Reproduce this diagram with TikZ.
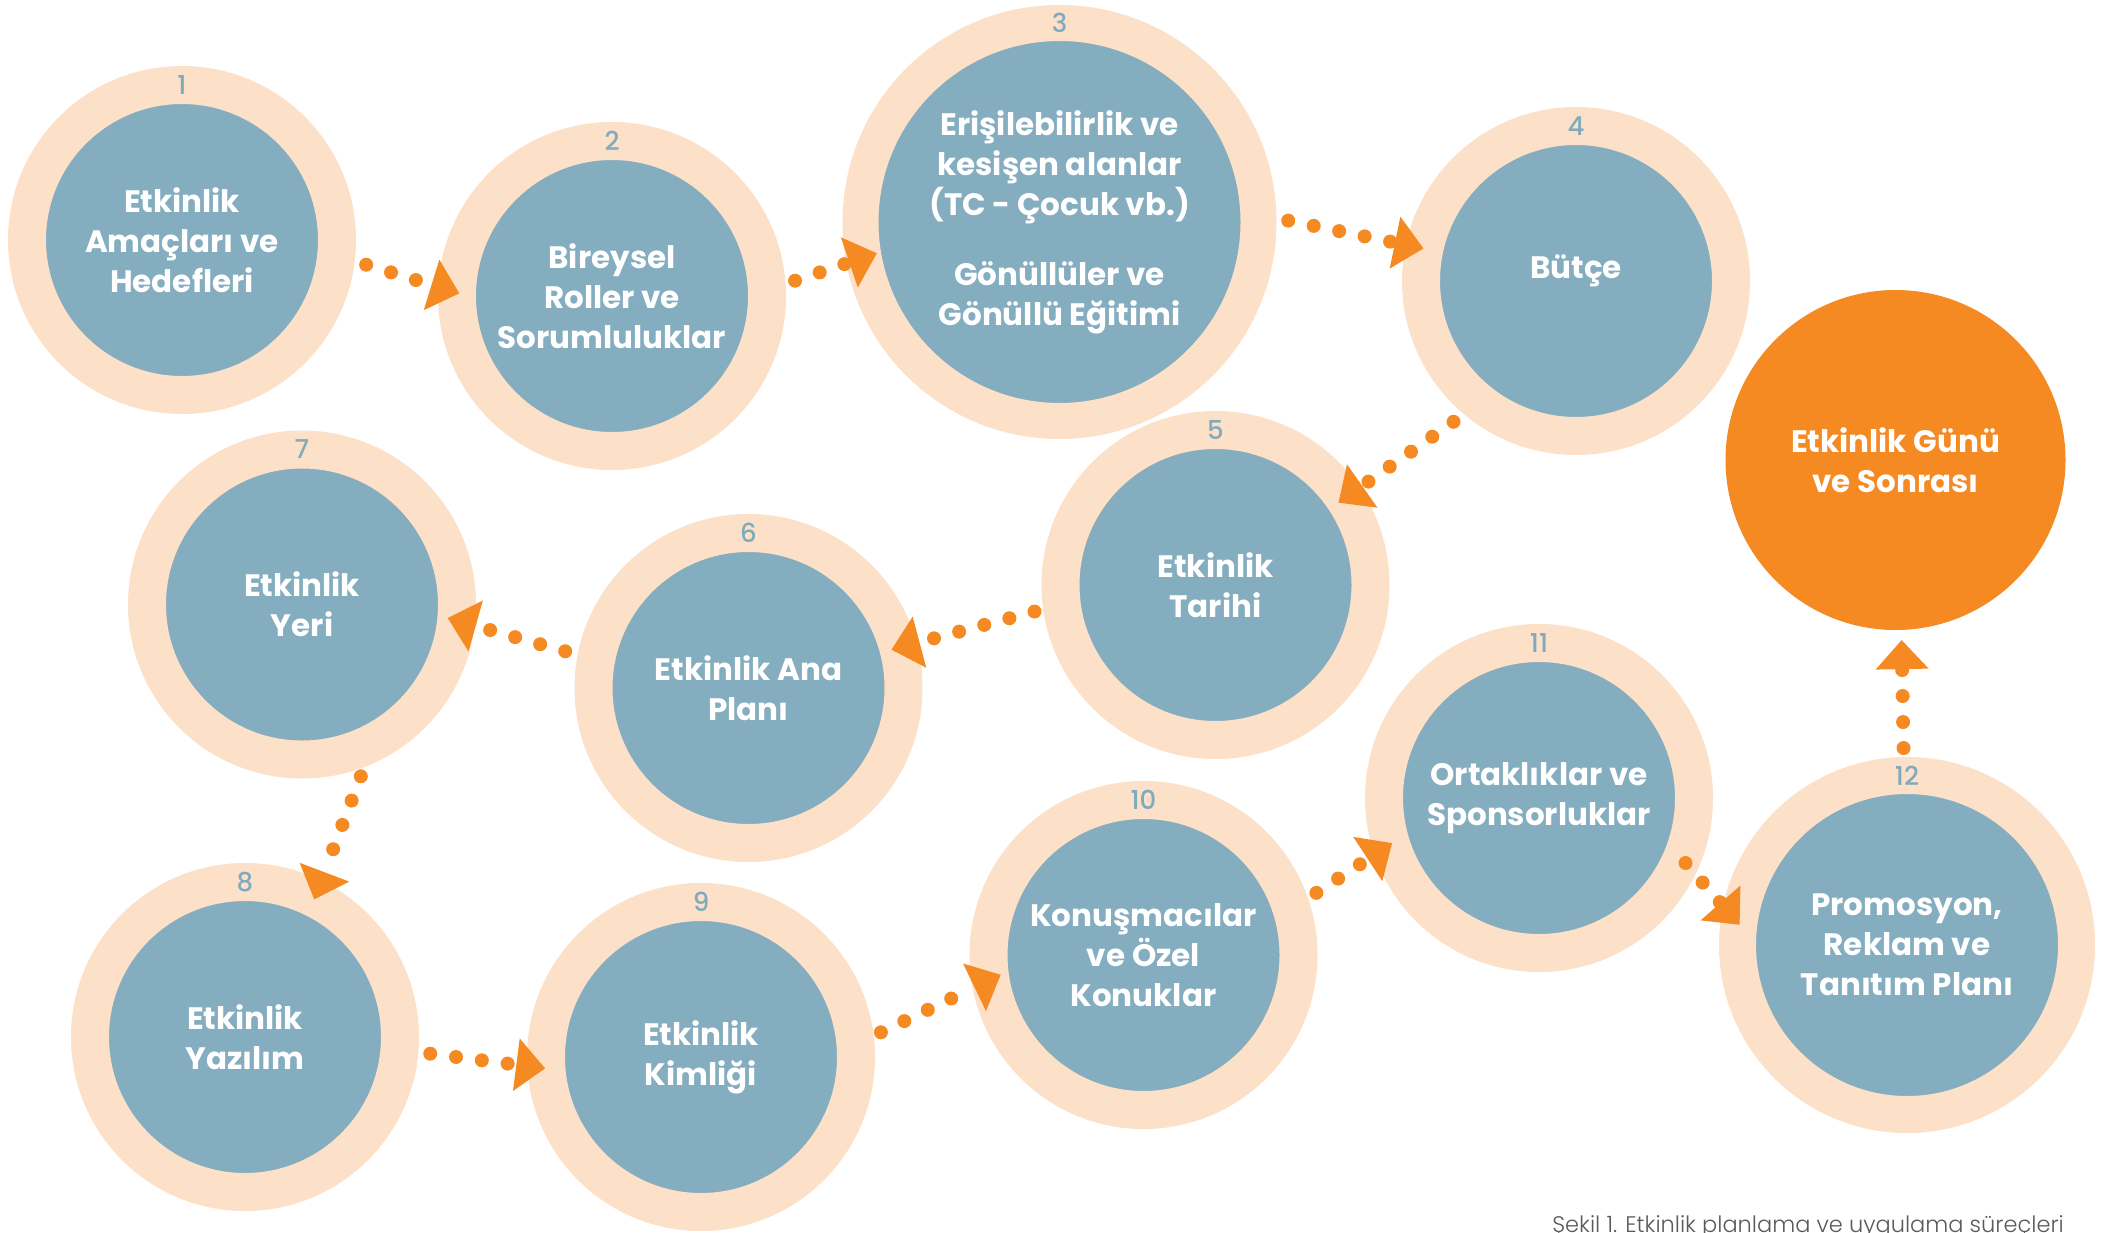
\documentclass[tikz,border=0pt]{standalone}
\usepackage{fontspec}
\setmainfont{Poppins}
\newfontfamily\numberfont{Poppins}[UprightFont=* Medium]
\newfontfamily\captionfont{Poppins}[UprightFont=* Light]
\usetikzlibrary{
  arrows.meta,
  positioning}
\definecolor{ringcolor}{RGB}{252,224,200}
\definecolor{stepcolor}{RGB}{132,173,191}
\definecolor{goalcolor}{RGB}{245,138,35}
\definecolor{numbercolor}{RGB}{128,170,189}
\definecolor{captioncolor}{RGB}{90,90,90}
\tikzset{
  %% stepnode : one planning step (blue disc inside a peach ring)
  stepnode/.style={
    circle,
    fill=stepcolor,
    draw=ringcolor,
    line width=38pt,
    minimum size=310pt,
    inner sep=0pt,
    text=white,
    font=\fontsize{31}{40}\selectfont\bfseries,
    align=center
  },
  %% stepnumber : number printed in the ring
  stepnumber/.style={
    text=numbercolor,
    font=\numberfont\fontsize{26}{26}\selectfont,
    inner sep=0pt
  },
  %% goal : the final (orange) disc
  goal/.style={
    circle,
    fill=goalcolor,
    minimum size=340pt,
    inner sep=0pt,
    text=white,
    font=\fontsize{31}{40}\selectfont\bfseries,
    align=center
  },
  %% flow : dotted connector with a flat triangle head
  flow/.style={
    goalcolor,
    line width=14pt,
    line cap=round,
    dash pattern=on 0pt off 26pt,
    -{Triangle[length=29pt,width=53pt,line width=0pt]}
  },
  %% caption : figure caption, bottom right
  caption/.style={
    text=captioncolor,
    font=\captionfont\fontsize{22.5}{22.5}\selectfont,
    inner sep=0pt
  }
}

\begin{document}
\begin{tikzpicture}
  [x=1pt,
  y=-1pt]

  %% Background, fixes the size of the page
  \fill [white] (0,0) rectangle (2111,1232);
  \useasboundingbox (0,0) rectangle (2111,1232);

  %% Steps
  \node (s1) [stepnode] at (182,240) {%
    Etkinlik\\
    Amaçları ve\\
    Hedefleri
  };
  \node (s2) [stepnode] at (612,296) {%
    Bireysel\\
    Roller ve\\
    Sorumluluklar
  };
  \node (s3) [stepnode, line width=36pt, minimum size=398pt] at (1059.5,222) {%
    Erişilebilirlik ve\\
    kesişen alanlar\\
    (TC - Çocuk vb.)\\[30pt]
    Gönüllüler ve\\
    Gönüllü Eğitimi
  };
  \node (s4) [stepnode] at (1576,281) {%
    Bütçe\\[-12pt]
    \mbox{}
  };
  \node (s5) [stepnode] at (1215.5,585) {%
    Etkinlik\\
    Tarihi
  };
  \node (s6) [stepnode] at (748.5,688) {%
    Etkinlik Ana\\
    Planı
  };
  \node (s7) [stepnode] at (302,604.5) {%
    Etkinlik\\
    Yeri
  };
  \node (s8) [stepnode] at (245,1037) {%
    Etkinlik\\
    Yazılım
  };
  \node (s9) [stepnode] at (701,1057) {%
    Etkinlik\\
    Kimliği
  };
  \node (s10) [stepnode] at (1143.5,955) {%
    Konuşmacılar\\
    ve Özel\\
    Konuklar
  };
  \node (s11) [stepnode] at (1539,798) {%
    Ortaklıklar ve\\
    Sponsorluklar
  };
  \node (s12) [stepnode, line width=37pt, minimum size=339pt] at (1907,945) {%
    Promosyon,\\
    Reklam ve\\
    Tanıtım Planı
  };
  \node (goal) [goal] at (1895.5,460) {%
    Etkinlik Günü\\
    ve Sonrası
  };

  %% Numbers in the rings
  \node (n1) [stepnumber] at ([yshift=-19pt]s1.north) {1};
  \node (n2) [stepnumber] at ([yshift=-19pt]s2.north) {2};
  \node (n3) [stepnumber] at ([yshift=-18pt]s3.north) {3};
  \node (n4) [stepnumber] at ([yshift=-19pt]s4.north) {4};
  \node (n5) [stepnumber] at ([yshift=-19pt]s5.north) {5};
  \node (n6) [stepnumber] at ([yshift=-19pt]s6.north) {6};
  \node (n7) [stepnumber] at ([yshift=-19pt]s7.north) {7};
  \node (n8) [stepnumber] at ([yshift=-19pt]s8.north) {8};
  \node (n9) [stepnumber] at ([yshift=-19pt]s9.north) {9};
  \node (n10) [stepnumber] at ([yshift=-19pt]s10.north) {10};
  \node (n11) [stepnumber] at ([yshift=-19pt]s11.north) {11};
  \node (n12) [stepnumber] at ([yshift=-18.5pt]s12.north) {12};

  %% Connections
  \draw [flow, shorten <=12pt, shorten >=-22pt] (s1.-7) -- (s2.177);
  \draw [flow, shorten <=10pt, shorten >=-32pt] (s2.4) -- (s3.191);
  \draw [flow, shorten <=12pt, shorten >=-18pt] (s3.1) -- (s4.168);
  \draw [flow, shorten <=13pt, shorten >=-26pt] (s4.-130) -- (s5.34);
  \draw [flow, shorten <=9pt, shorten >=-26pt] (s5.-172) -- (s6.15);
  \draw [flow, shorten <=13pt, shorten >=-28pt] (s6.169) -- (s7.-7);
  \draw [flow, shorten <=10pt, shorten >=-20pt] (s7.-69) -- (s8.64);
  \draw [flow, shorten <=12pt, shorten >=-18pt] (s8.-5) -- (s9.183);
  \draw [flow, shorten <=8pt, shorten >=-31pt] (s9.7) -- (s10.191);
  \draw [flow, shorten <=10pt, shorten >=-21pt] (s10.19) -- (s11.199);
  \draw [flow, shorten <=-15pt, shorten >=-25pt] (s11.-26) -- (s12.168);
  \draw [flow, shorten <=9pt, shorten >=10pt] (s12.91) -- (goal.-88);

  %% Caption
  \node (caption) [caption, anchor=base east] at (2064,1232) {%
    Şekil 1. Etkinlik planlama ve uygulama süreçleri};

\end{tikzpicture}
\end{document}
